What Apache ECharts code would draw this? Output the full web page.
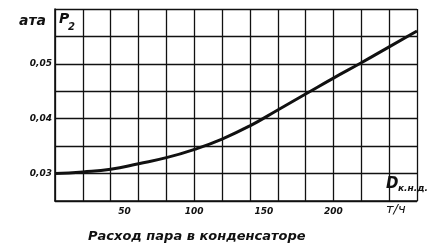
<!DOCTYPE html>
<html><head><meta charset="utf-8">
<script src="https://cdn.jsdelivr.net/npm/echarts@6/dist/echarts.min.js"></script>
<style>html,body{margin:0;padding:0;background:#fff}#c{width:446px;height:252px}</style>
</head><body><div id="c"></div>
<script>
// Steam flow to condenser, t/h
const flow = [0, 20, 40, 60, 80, 100, 120, 140, 160, 180, 200, 220, 240, 260];
// Condenser pressure P2, ata
const p2 = [0.0300, 0.0303, 0.0308, 0.0318, 0.0329, 0.0344, 0.0363, 0.0387, 0.0416, 0.0445, 0.0474, 0.0502, 0.0531, 0.0560];
const xTickLabels = [50, 100, 150, 200];
const yTickLabels = [0.03, 0.04, 0.05];

const ink = '#111';
const font = 'DejaVu Sans';
const chart = echarts.init(document.getElementById('c'));
chart.setOption({
  animation: false,
  backgroundColor: '#fff',
  grid: {left: 55, right: 29, top: 9, bottom: 51},
  xAxis: [{
    type: 'value', min: 0, max: 260, interval: 20,
    axisLine: {show: true, lineStyle: {color: ink, width: 1.6}},
    axisTick: {show: false}, axisLabel: {show: false},
    splitLine: {show: true, lineStyle: {color: ink, width: 1.3}}
  }, {
    type: 'value', min: 0, max: 260, interval: 50, position: 'bottom',
    axisLine: {show: false}, axisTick: {show: false}, splitLine: {show: false},
    axisLabel: {
      show: true, margin: 6, color: ink, fontFamily: font, fontStyle: 'italic', fontWeight: 'bold', fontSize: 9,
      formatter: v => xTickLabels.includes(v) ? String(v) : ''
    }
  }],
  yAxis: {
    type: 'value', min: 0.025, max: 0.06, interval: 0.005,
    axisLine: {show: true, lineStyle: {color: ink, width: 1.6}},
    axisTick: {show: false},
    splitLine: {show: true, lineStyle: {color: ink, width: 1.3}},
    axisLabel: {
      show: true, margin: 3, color: ink, fontFamily: font, fontStyle: 'italic', fontWeight: 'bold', fontSize: 9,
      formatter: v => {
        const hit = yTickLabels.find(t => Math.abs(t - v) < 1e-6);
        return hit !== undefined ? hit.toFixed(2).replace('.', ',') : '';
      }
    }
  },
  series: [{
    type: 'line', xAxisIndex: 0, data: flow.map((f, i) => [f, p2[i]]),
    smooth: true, symbol: 'none', lineStyle: {color: ink, width: 3}
  }],
  graphic: [
    {type: 'text', left: 19, top: 14, style: {text: 'ата', fill: ink, font: 'italic bold 14px DejaVu Sans'}},
    {type: 'text', left: 59, top: 12, style: {text: 'P', fill: ink, font: 'italic bold 14px DejaVu Sans'}},
    {type: 'text', left: 68, top: 22, style: {text: '2', fill: ink, font: 'italic bold 10px DejaVu Sans'}},
    {type: 'rect', shape: {x: 384, y: 176, width: 50, height: 22}, style: {fill: '#fff'}},
    {type: 'text', left: 386, top: 177, style: {text: 'D', fill: ink, font: 'italic bold 15px DejaVu Sans'}},
    {type: 'text', left: 398, top: 184, style: {text: 'к.н.д.', fill: ink, font: 'italic bold 9px DejaVu Sans'}},
    {type: 'text', left: 386, top: 203, style: {text: 'т/ч', fill: ink, font: 'italic 13px DejaVu Sans'}},
    {type: 'text', left: 88, top: 230, style: {text: 'Расход пара в конденсаторе', fill: ink, font: 'italic bold 13px DejaVu Sans'}}
  ]
});
</script></body></html>
